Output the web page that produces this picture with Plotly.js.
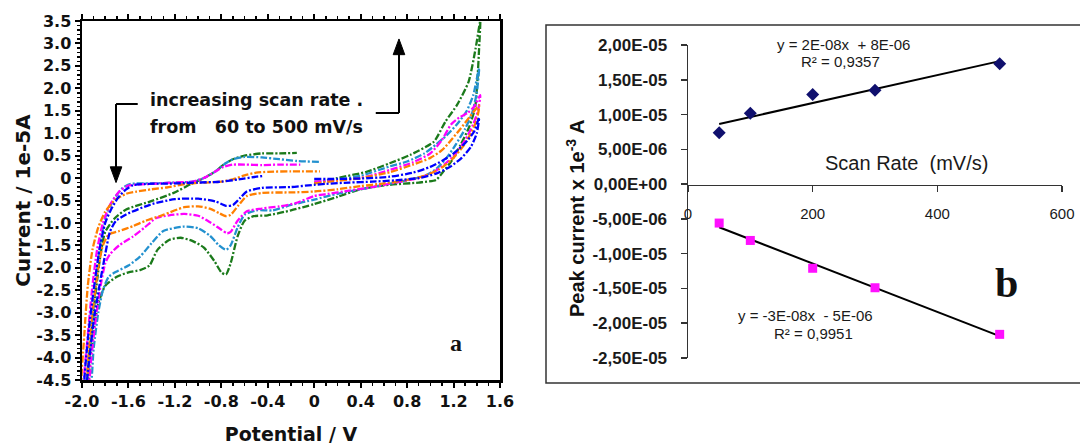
<!DOCTYPE html>
<html>
<head>
<meta charset="utf-8">
<script src="https://cdn.plot.ly/plotly-3.0.1.min.js"></script>
<style>html,body{margin:0;padding:0;background:#fff;}#chart{width:1080px;height:445px;}</style>
</head>
<body>
<div id="chart"></div>
<script>
// ---------- Panel a : cyclic voltammograms (Potential / V, Current / 1e-5 A) ----------
const cv50V  = [0.0,0.2,0.4,0.65,0.85,1.0,1.1,1.2,1.3,1.38,1.42, 1.40,1.35,1.27,1.17,1.05,0.9,0.7,0.5,0.3,0.1,0.0, -0.2,-0.45,-0.58,-0.64,-0.7,-0.76,-0.85,-1.0,-1.2,-1.41,-1.62,-1.71,-1.76,-1.8,-1.85,-1.9,-1.94,-1.97, -1.98,-1.95,-1.9,-1.85,-1.8,-1.75,-1.69,-1.62,-1.56,-1.45,-1.2,-1.0,-0.8,-0.65,-0.5,-0.43];
const cv50I  = [-0.02,-0.02,-0.01,0.03,0.12,0.25,0.38,0.55,0.78,1.05,1.35, 1.0,0.7,0.45,0.25,0.1,0.0,-0.05,-0.08,-0.1,-0.13,-0.15, -0.2,-0.22,-0.3,-0.45,-0.6,-0.62,-0.52,-0.46,-0.47,-0.59,-0.81,-0.96,-1.2,-1.7,-2.4,-3.2,-4.1,-4.7, -4.7,-3.6,-2.5,-1.6,-1.0,-0.7,-0.44,-0.25,-0.16,-0.13,-0.12,-0.1,-0.08,-0.03,0.03,0.05];

const cv100V = [0.0,0.2,0.4,0.65,0.85,1.0,1.1,1.18,1.26,1.32,1.38,1.42, 1.4,1.35,1.28,1.18,1.08,0.95,0.8,0.6,0.4,0.2,0.0, -0.2,-0.45,-0.58,-0.65,-0.72,-0.76,-0.82,-0.9,-1.0,-1.12,-1.3,-1.45,-1.56,-1.68,-1.77,-1.82,-1.86,-1.9,-1.94,-1.97, -2.0,-1.98,-1.95,-1.91,-1.86,-1.8,-1.72,-1.62,-1.53,-1.4,-1.27,-1.1,-0.95,-0.8,-0.7,-0.6,-0.5,-0.4,-0.2,0.05];
const cv100I = [-0.12,-0.06,0.0,0.13,0.3,0.45,0.62,0.85,1.1,1.3,1.5,1.62, 1.3,1.0,0.7,0.4,0.2,0.05,-0.04,-0.12,-0.18,-0.25,-0.3, -0.32,-0.33,-0.4,-0.6,-0.82,-0.85,-0.78,-0.68,-0.63,-0.65,-0.82,-0.95,-1.07,-1.18,-1.26,-1.5,-2.0,-2.8,-3.8,-4.7, -4.7,-3.5,-2.4,-1.6,-1.1,-0.75,-0.5,-0.35,-0.3,-0.25,-0.21,-0.13,-0.1,-0.08,-0.03,0.06,0.12,0.14,0.15,0.15];

const cv200V = [0.0,0.2,0.4,0.65,0.85,1.0,1.1,1.18,1.25,1.32,1.38,1.43, 1.41,1.37,1.3,1.22,1.12,1.02,0.9,0.7,0.5,0.3,0.1,0.0, -0.16,-0.3,-0.45,-0.58,-0.66,-0.72,-0.75,-0.8,-0.9,-1.0,-1.12,-1.25,-1.36,-1.46,-1.56,-1.68,-1.76,-1.8,-1.84,-1.88,-1.92,-1.95, -1.98,-1.95,-1.91,-1.87,-1.82,-1.76,-1.68,-1.6,-1.4,-1.2,-1.05,-0.95,-0.85,-0.78,-0.7,-0.6,-0.45,-0.3,-0.12];
const cv200I = [-0.08,-0.05,0.0,0.18,0.35,0.55,0.85,1.2,1.35,1.45,1.6,1.85, 1.5,1.2,0.85,0.55,0.3,0.12,0.0,-0.1,-0.2,-0.28,-0.36,-0.4, -0.56,-0.63,-0.68,-0.74,-0.95,-1.2,-1.23,-1.15,-0.98,-0.84,-0.8,-0.83,-0.89,-1.1,-1.3,-1.5,-1.7,-1.9,-2.4,-3.1,-4.0,-4.7, -4.7,-3.5,-2.4,-1.6,-1.0,-0.6,-0.3,-0.17,-0.13,-0.1,-0.08,0.0,0.15,0.25,0.3,0.3,0.29,0.3,0.3];

const cv300V = [0.0,0.2,0.4,0.65,0.8,0.95,1.05,1.14,1.23,1.31,1.37,1.42, 1.40,1.36,1.3,1.22,1.14,1.05,0.95,0.8,0.6,0.4,0.2,0.0, -0.2,-0.36,-0.5,-0.6,-0.66,-0.72,-0.76,-0.82,-0.9,-1.0,-1.12,-1.3,-1.4,-1.5,-1.6,-1.7,-1.77,-1.82,-1.86,-1.9,-1.93, -1.95,-1.92,-1.88,-1.84,-1.79,-1.72,-1.65,-1.58,-1.4,-1.2,-1.05,-0.95,-0.85,-0.78,-0.7,-0.6,-0.45,-0.3,-0.15,0.05];
const cv300I = [-0.08,-0.03,0.05,0.26,0.37,0.55,0.75,0.95,1.2,1.48,1.85,2.45, 1.9,1.45,1.1,0.75,0.45,0.2,0.05,-0.05,-0.15,-0.25,-0.35,-0.48, -0.6,-0.72,-0.72,-0.82,-1.1,-1.5,-1.6,-1.5,-1.28,-1.12,-1.08,-1.18,-1.45,-1.75,-1.95,-2.08,-2.2,-2.5,-3.0,-3.8,-4.7, -4.7,-3.5,-2.3,-1.4,-0.8,-0.45,-0.22,-0.13,-0.12,-0.1,-0.08,0.0,0.15,0.3,0.42,0.47,0.46,0.42,0.38,0.36];

const cv500V = [0.0,0.2,0.45,0.65,0.83,1.03,1.13,1.23,1.33,1.39,1.43, 1.42,1.405,1.385,1.33,1.26,1.18,1.11,1.05,0.9,0.65,0.4,0.2,0.0, -0.2,-0.4,-0.52,-0.6,-0.66,-0.72,-0.76,-0.8,-0.86,-0.95,-1.05,-1.15,-1.25,-1.35,-1.42,-1.5,-1.6,-1.7,-1.8,-1.86,-1.9,-1.93,-1.95, -1.96,-1.92,-1.88,-1.84,-1.8,-1.72,-1.62,-1.41,-1.21,-1.06,-0.95,-0.85,-0.78,-0.7,-0.6,-0.45,-0.3,-0.15];
const cv500I = [-0.12,0.0,0.14,0.33,0.52,0.81,1.26,1.63,2.15,2.89,3.5, 2.89,2.15,1.56,1.11,0.74,0.37,0.14,-0.04,-0.1,-0.15,-0.25,-0.42,-0.58, -0.72,-0.83,-0.85,-0.95,-1.3,-1.9,-2.15,-2.1,-1.85,-1.55,-1.4,-1.33,-1.38,-1.6,-1.95,-2.05,-2.1,-2.2,-2.4,-2.8,-3.4,-4.0,-4.7, -4.7,-3.5,-2.5,-1.7,-1.2,-0.9,-0.7,-0.52,-0.33,-0.13,0.0,0.15,0.3,0.42,0.5,0.55,0.55,0.56];

const cvSeries = [
  {rate: 500, v: cv500V, i: cv500I, color: '#1b7a1b'},
  {rate: 300, v: cv300V, i: cv300I, color: '#2391cf'},
  {rate: 200, v: cv200V, i: cv200I, color: '#ff00ff'},
  {rate: 100, v: cv100V, i: cv100I, color: '#ff7f00'},
  {rate: 50,  v: cv50V,  i: cv50I,  color: '#0000ff'}
];

const xTicksA = [-2.0,-1.6,-1.2,-0.8,-0.4,0,0.4,0.8,1.2,1.6];
const xTickTextA = ['-2.0','-1.6','-1.2','-0.8','-0.4','0','0.4','0.8','1.2','1.6'];
const yTicksA = [3.5,3.0,2.5,2.0,1.5,1.0,0.5,0,-0.5,-1.0,-1.5,-2.0,-2.5,-3.0,-3.5,-4.0,-4.5];
const yTickTextA = ['3.5','3.0','2.5','2.0','1.5','1.0','0.5','0','-0.5','-1.0','-1.5','-2.0','-2.5','-3.0','-3.5','-4.0','-4.5'];

// ---------- Panel b : peak current vs scan rate ----------
const scanRates = [50, 100, 200, 300, 500];
const anodicPeak = [7.4e-6, 1.02e-5, 1.29e-5, 1.35e-5, 1.73e-5];
const cathodicPeak = [-5.6e-6, -8.1e-6, -1.21e-5, -1.49e-5, -2.16e-5];
const yTicksB = [2e-5,1.5e-5,1e-5,5e-6,0,-5e-6,-1e-5,-1.5e-5,-2e-5,-2.5e-5];
const yTickTextB = ['2,00E-05','1,50E-05','1,00E-05','5,00E-06','0,00E+00','-5,00E-06','-1,00E-05','-1,50E-05','-2,00E-05','-2,50E-05'];
const xTicksB = [0, 200, 400, 600];

function linfit(x, y) {
  const n = x.length;
  const mx = x.reduce((a,b)=>a+b,0)/n, my = y.reduce((a,b)=>a+b,0)/n;
  let sxy = 0, sxx = 0;
  for (let k=0;k<n;k++){ sxy += (x[k]-mx)*(y[k]-my); sxx += (x[k]-mx)*(x[k]-mx); }
  const m = sxy/sxx; return {m: m, b: my - m*mx};
}
const xFit = [Math.min(...scanRates), Math.max(...scanRates)];
const fitA = linfit(scanRates, anodicPeak);
const fitC = linfit(scanRates, cathodicPeak);

const traces = [];
cvSeries.forEach(s => {
  traces.push({type:'scatter', mode:'lines', x:s.v, y:s.i, xaxis:'x', yaxis:'y',
    name: s.rate + ' mV/s', line:{color:s.color, width:2.3, dash:'7px,2px,2px,2px', shape:'spline', smoothing:0.6},
    hoverinfo:'skip'});
});
traces.push({type:'scatter', mode:'lines', x:xFit, y:xFit.map(x=>fitA.m*x+fitA.b), xaxis:'x2', yaxis:'y2',
  line:{color:'#000', width:2}, hoverinfo:'skip'});
traces.push({type:'scatter', mode:'lines', x:xFit, y:xFit.map(x=>fitC.m*x+fitC.b), xaxis:'x2', yaxis:'y2',
  line:{color:'#000', width:2}, hoverinfo:'skip'});
traces.push({type:'scatter', mode:'markers', x:scanRates, y:anodicPeak, xaxis:'x2', yaxis:'y2',
  marker:{symbol:'diamond', size:10, color:'#10106e'}, cliponaxis:false});
traces.push({type:'scatter', mode:'markers', x:scanRates, y:cathodicPeak, xaxis:'x2', yaxis:'y2',
  marker:{symbol:'square', size:9, color:'#ff10ff'}, cliponaxis:false});

const W = 1080, H = 445;
const px = v => v / W, py = v => 1 - v / H;
const dvBold = (size) => ({family:'DejaVu Sans, Verdana, sans-serif', size:size, color:'#111', weight:'bold'});
const arial = (size, weight) => ({family:'Liberation Sans, Arial, sans-serif', size:size, color:'#1a1a1a', weight:weight || 'normal'});

const layout = {
  width: W, height: H,
  margin: {l:0, r:0, t:0, b:0},
  paper_bgcolor: '#fff', plot_bgcolor: '#fff',
  showlegend: false,
  xaxis: {
    domain: [px(82), px(500)], range: [-2.0, 1.6], anchor: 'y',
    tickvals: xTicksA, ticktext: xTickTextA,
    ticks: 'outside', ticklen: 5, tickwidth: 2, tickcolor: '#000',
    minor: {dtick: 0.1, tick0: 0, ticks: 'outside', ticklen: 3, tickwidth: 1.5, tickcolor: '#000'},
    showline: true, linewidth: 2.5, linecolor: '#000', mirror: 'ticks',
    showgrid: false, zeroline: false,
    tickfont: dvBold(16),
    title: {text: 'Potential / V', font: dvBold(19), standoff: 20}
  },
  yaxis: {
    domain: [py(380), py(21)], range: [-4.5, 3.5], anchor: 'x',
    tickvals: yTicksA, ticktext: yTickTextA,
    ticks: 'outside', ticklen: 5, tickwidth: 2, tickcolor: '#000',
    minor: {dtick: 0.1, tick0: 0, ticks: 'outside', ticklen: 3, tickwidth: 1.5, tickcolor: '#000'},
    showline: true, linewidth: 2.5, linecolor: '#000', mirror: true,
    showgrid: false, zeroline: false,
    tickfont: dvBold(16),
    title: {text: 'Current / 1e-5A', font: dvBold(20), standoff: 1}
  },
  xaxis2: {
    domain: [px(688), px(1062)], range: [0, 600], anchor: 'free', position: py(184.5),
    tickvals: xTicksB, ticks: 'outside', ticklen: 6, tickcolor: '#333', tickwidth: 1.5,
    showline: true, linewidth: 1.5, linecolor: '#333',
    showgrid: false, zeroline: false, ticklabelstandoff: 9,
    tickfont: arial(15)
  },
  yaxis2: {
    domain: [py(358), py(45)], range: [-2.5e-5, 2e-5], anchor: 'x2',
    tickvals: yTicksB, ticktext: yTickTextB,
    ticks: 'outside', ticklen: 6, tickcolor: '#333', tickwidth: 1.5,
    showline: true, linewidth: 1.5, linecolor: '#333',
    showgrid: false, zeroline: false, ticklabelstandoff: 10,
    tickfont: arial(17, 'bold')
  },
  shapes: [
    {type:'rect', xref:'paper', yref:'paper', x0:px(546), x1:px(1085), y0:py(383), y1:py(25),
     line:{color:'#333', width:1.5}, fillcolor:'rgba(0,0,0,0)', layer:'below'},
    // arrows in panel a
    {type:'line', xref:'x', yref:'y', x0:-1.707, x1:-1.52, y0:1.65, y1:1.65, line:{color:'#000', width:2}},
    {type:'line', xref:'x', yref:'y', x0:-1.707, x1:-1.707, y0:1.65, y1:0.15, line:{color:'#000', width:2}},
    {type:'path', xref:'x', yref:'y', path:'M -1.757,0.25 L -1.657,0.25 L -1.707,-0.1 Z', fillcolor:'#000', line:{color:'#000', width:1}},
    {type:'line', xref:'x', yref:'y', x0:0.53, x1:0.73, y0:1.45, y1:1.45, line:{color:'#000', width:2}},
    {type:'line', xref:'x', yref:'y', x0:0.73, x1:0.73, y0:1.45, y1:2.85, line:{color:'#000', width:2}},
    {type:'path', xref:'x', yref:'y', path:'M 0.68,2.75 L 0.78,2.75 L 0.73,3.1 Z', fillcolor:'#000', line:{color:'#000', width:1}}
  ],
  annotations: [
    {xref:'x', yref:'y', x:-1.43, y:1.75, xanchor:'left', yanchor:'middle', showarrow:false,
     text:'increasing scan rate .', font: dvBold(17.5)},
    {xref:'x', yref:'y', x:-1.43, y:1.13, xanchor:'left', yanchor:'middle', showarrow:false,
     text:'from \u00a0 60 to 500 mV/s', font: dvBold(17.5)},
    {xref:'x', yref:'y', x:1.22, y:-3.67, showarrow:false, text:'a',
     font:{family:'Liberation Serif, serif', size:24, color:'#111', weight:'bold'}},
    {xref:'paper', yref:'paper', x:px(575), y:py(219), xanchor:'center', yanchor:'middle', showarrow:false, textangle:-90,
     text:'Peak current x 1e<sup>-3</sup> A', font:{family:'Liberation Sans, Arial, sans-serif', size:20, color:'#111', weight:'bold'}},
    {xref:'paper', yref:'paper', x:px(843), y:py(44), xanchor:'center', yanchor:'middle', showarrow:false,
     text:'y = 2E-08x  + 8E-06', font: arial(15)},
    {xref:'paper', yref:'paper', x:px(840), y:py(62), xanchor:'center', yanchor:'middle', showarrow:false,
     text:'R² = 0,9357', font: arial(15)},
    {xref:'paper', yref:'paper', x:px(805), y:py(315), xanchor:'center', yanchor:'middle', showarrow:false,
     text:'y = -3E-08x  - 5E-06', font: arial(15)},
    {xref:'paper', yref:'paper', x:px(813), y:py(333), xanchor:'center', yanchor:'middle', showarrow:false,
     text:'R² = 0,9951', font: arial(15)},
    {xref:'paper', yref:'paper', x:px(906), y:py(163), xanchor:'center', yanchor:'middle', showarrow:false,
     text:'Scan Rate  (mV/s)', font: arial(20)},
    {xref:'paper', yref:'paper', x:px(1006), y:py(283), xanchor:'center', yanchor:'middle', showarrow:false, text:'b',
     font:{family:'Liberation Serif, serif', size:42, color:'#111', weight:'bold'}}
  ]
};

Plotly.newPlot('chart', traces, layout, {staticPlot:true, displayModeBar:false}).then(gd => {
  gd.querySelectorAll('svg text').forEach(t => { if (!t.textContent.trim()) t.remove(); });
});
</script>
</body>
</html>
